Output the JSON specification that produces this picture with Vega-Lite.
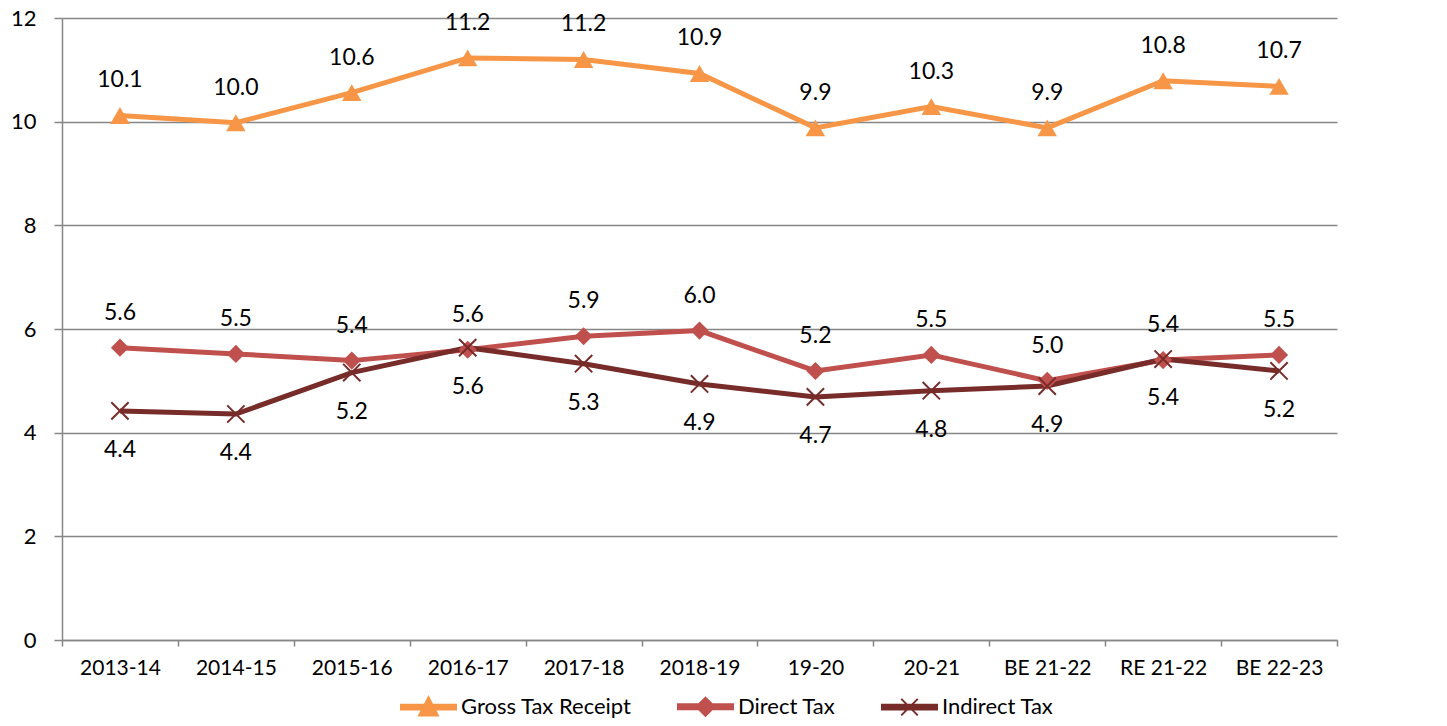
{
  "$schema": "https://vega.github.io/schema/vega-lite/v6.json",
  "width": 1275,
  "height": 622,
  "autosize": {"type": "none"},
  "padding": {"left": 62, "top": 18, "right": 110, "bottom": 86},
  "background": "white",
  "config": {
    "font": "Lato",
    "view": {"stroke": null},
    "axis": {"labelColor": "black", "labelFont": "Lato", "title": null}
  },
  "data": {
    "values": [
      {"year": "2013-14", "series": "Gross Tax Receipt", "value": 10.12},
      {"year": "2014-15", "series": "Gross Tax Receipt", "value": 9.98},
      {"year": "2015-16", "series": "Gross Tax Receipt", "value": 10.56},
      {"year": "2016-17", "series": "Gross Tax Receipt", "value": 11.23},
      {"year": "2017-18", "series": "Gross Tax Receipt", "value": 11.2},
      {"year": "2018-19", "series": "Gross Tax Receipt", "value": 10.93},
      {"year": "19-20", "series": "Gross Tax Receipt", "value": 9.88},
      {"year": "20-21", "series": "Gross Tax Receipt", "value": 10.29},
      {"year": "BE 21-22", "series": "Gross Tax Receipt", "value": 9.88},
      {"year": "RE 21-22", "series": "Gross Tax Receipt", "value": 10.79},
      {"year": "BE 22-23", "series": "Gross Tax Receipt", "value": 10.68},
      {"year": "2013-14", "series": "Direct Tax", "value": 5.64},
      {"year": "2014-15", "series": "Direct Tax", "value": 5.52},
      {"year": "2015-16", "series": "Direct Tax", "value": 5.39},
      {"year": "2016-17", "series": "Direct Tax", "value": 5.6},
      {"year": "2017-18", "series": "Direct Tax", "value": 5.86},
      {"year": "2018-19", "series": "Direct Tax", "value": 5.97},
      {"year": "19-20", "series": "Direct Tax", "value": 5.19},
      {"year": "20-21", "series": "Direct Tax", "value": 5.5},
      {"year": "BE 21-22", "series": "Direct Tax", "value": 5.0},
      {"year": "RE 21-22", "series": "Direct Tax", "value": 5.4},
      {"year": "BE 22-23", "series": "Direct Tax", "value": 5.5},
      {"year": "2013-14", "series": "Indirect Tax", "value": 4.42},
      {"year": "2014-15", "series": "Indirect Tax", "value": 4.36},
      {"year": "2015-16", "series": "Indirect Tax", "value": 5.16},
      {"year": "2016-17", "series": "Indirect Tax", "value": 5.64},
      {"year": "2017-18", "series": "Indirect Tax", "value": 5.33},
      {"year": "2018-19", "series": "Indirect Tax", "value": 4.94},
      {"year": "19-20", "series": "Indirect Tax", "value": 4.69},
      {"year": "20-21", "series": "Indirect Tax", "value": 4.81},
      {"year": "BE 21-22", "series": "Indirect Tax", "value": 4.9},
      {"year": "RE 21-22", "series": "Indirect Tax", "value": 5.42},
      {"year": "BE 22-23", "series": "Indirect Tax", "value": 5.19}
    ]
  },
  "encoding": {
    "x": {
      "field": "year", "type": "ordinal", "sort": null, "bandPosition": 0.5,
      "scale": {"type": "band", "paddingInner": 0, "paddingOuter": 0},
      "axis": {
        "labelAngle": 0, "labelFontSize": 21, "labelPadding": 11,
        "domainColor": "#868686", "domainWidth": 1.5,
        "tickColor": "#868686", "tickWidth": 1.5, "tickSize": 6, "tickBand": "extent",
        "grid": false
      }
    },
    "y": {
      "field": "value", "type": "quantitative",
      "scale": {"domain": [0, 12], "nice": false},
      "axis": {
        "values": [0, 2, 4, 6, 8, 10, 12], "labelFontSize": 22, "labelPadding": 18,
        "domainColor": "#868686", "domainWidth": 1.5,
        "tickColor": "#868686", "tickWidth": 1.5, "tickSize": 8,
        "grid": true, "gridColor": "#868686", "gridWidth": 1.5
      }
    }
  },
  "layer": [
    {
      "mark": {"type": "line", "strokeWidth": 5},
      "encoding": {
        "color": {
          "field": "series", "type": "nominal",
          "scale": {"domain": ["Gross Tax Receipt", "Direct Tax", "Indirect Tax"], "range": ["#F79646", "#C0504D", "#772C2A"]},
          "legend": {
            "orient": "none", "legendX": 338, "legendY": 660, "direction": "horizontal",
            "title": null, "labelFontSize": 22, "labelFont": "Lato", "labelColor": "black", "labelLimit": 400,
            "symbolSize": 3025, "symbolStrokeWidth": 2, "labelOffset": 4, "columnPadding": 42,
            "encode": {
              "symbols": {
                "update": {
                  "shape": {"signal": "datum.value === 'Gross Tax Receipt' ? 'M-1,-0.09H1V0.09H-1Z M0,-0.36L0.34,0.3H-0.34Z' : datum.value === 'Direct Tax' ? 'M-1,-0.09H1V0.09H-1Z M0,-0.33L0.33,0L0,0.33L-0.33,0Z' : 'M-1,-0.09H1V0.09H-1Z M-0.3,-0.3L0.3,0.3M-0.3,0.3L0.3,-0.3'"},
                  "fill": {"signal": "scale('color', datum.value)"},
                  "stroke": {"signal": "scale('color', datum.value)"},
                  "strokeWidth": {"value": 2}
                }
              }
            }
          }
        }
      }
    },
    {
      "transform": [{"filter": "datum.series === 'Gross Tax Receipt'"}],
      "mark": {"type": "point", "shape": "triangle-up", "filled": true, "opacity": 1, "color": "#F79646", "size": 380}
    },
    {
      "transform": [{"filter": "datum.series === 'Direct Tax'"}],
      "mark": {"type": "point", "shape": "diamond", "filled": true, "opacity": 1, "color": "#C0504D", "size": 330}
    },
    {
      "transform": [{"filter": "datum.series === 'Indirect Tax'"}],
      "mark": {"type": "point", "shape": "M-1,-1L1,1M-1,1L1,-1", "filled": false, "opacity": 1, "color": "#772C2A", "strokeWidth": 2, "size": 300}
    },
    {
      "transform": [{"filter": "datum.series !== 'Indirect Tax'"}],
      "mark": {"type": "text", "dy": -35, "fontSize": 23, "font": "Lato", "color": "black"},
      "encoding": {"text": {"field": "value", "type": "quantitative", "format": ".1f"}}
    },
    {
      "transform": [{"filter": "datum.series === 'Indirect Tax'"}],
      "mark": {"type": "text", "dy": 39, "fontSize": 23, "font": "Lato", "color": "black"},
      "encoding": {"text": {"field": "value", "type": "quantitative", "format": ".1f"}}
    }
  ]
}
